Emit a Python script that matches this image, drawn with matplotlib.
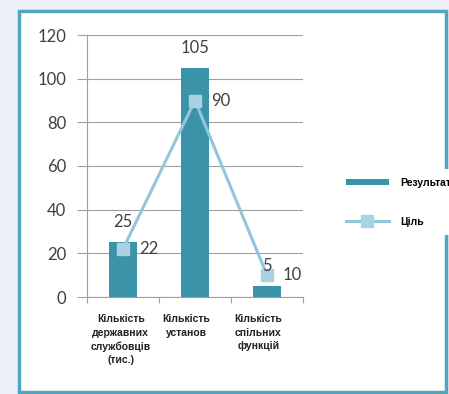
import matplotlib
matplotlib.use("Agg")
from matplotlib import pyplot as plt
from matplotlib.patches import Rectangle

categories = ["Кількість\nдержавних\nслужбовців\n(тис.)", "Кількість\nустанов", "Кількість\nспільних\nфункцій"]
results = [25, 105, 5]
target = [22, 90, 10]
y_ticks = [0, 20, 40, 60, 80, 100, 120]

bar_color = "#3a93a9"
line_color = "#92c6da"
marker_color = "#a9d3e3"
grid_color = "#a0a0a0"
text_color = "#404040"

plt.rcParams["font.family"] = ["Lato", "DejaVu Sans"]

fig = plt.figure(figsize=(4.49, 3.94), dpi=100)
fig.patch.set_facecolor("#edf0f8")

# біла рамка з бірюзовою обводкою
frame = Rectangle((19 / 449, 1 - 392 / 394), 427 / 449, 381 / 394, transform=fig.transFigure,
                  facecolor="white", edgecolor="#4ea7bf", linewidth=2.5, zorder=-1)
fig.patches.append(frame)

ax = fig.add_axes([87 / 449, 97 / 394, 216 / 449, 262 / 394])
ax.set_facecolor("none")
ax.set_zorder(2)

x = list(range(len(categories)))
bars = ax.bar(x, results, width=0.39, color=bar_color, label="Результати", zorder=2)
line, = ax.plot(x, target, color=line_color, linewidth=2.2, marker="s", markersize=8,
                markerfacecolor=marker_color, markeredgecolor=marker_color, label="Ціль", zorder=3)

# підписи значень
for xi, v in zip(x, results):
    ax.text(xi, v + 5.5, str(v), ha="center", va="bottom", fontsize=12, color=text_color)
for xi, v in zip(x, target):
    ax.text(xi + 0.22, v, str(v), ha="left", va="center", fontsize=12, color=text_color)

ax.set_xlim(-0.5, 2.5)
ax.set_ylim(0, 120)
ax.set_yticks(y_ticks)
ax.tick_params(axis="y", labelsize=12, labelcolor=text_color, color=grid_color, length=7, pad=8)
ax.grid(axis="y", color=grid_color, linewidth=0.8, zorder=0)

ax.set_xticks([-0.5, 0.5, 1.5, 2.5])
ax.set_xticklabels([])
ax.tick_params(axis="x", color=grid_color, length=4)
for xi, name in zip(x, categories):
    ax.text(xi - 0.45, -8, name, ha="left", va="top", multialignment="center",
            fontsize=7.5, fontweight="bold", family=["Liberation Sans", "DejaVu Sans"],
            color="#222222", linespacing=1.4)

for side in ["top", "right"]:
    ax.spines[side].set_visible(False)
ax.spines["left"].set_color(grid_color)
ax.spines["bottom"].set_color(grid_color)

leg = fig.legend([bars, line], ["Результати", "Ціль"], loc="upper left",
                 bbox_to_anchor=(332 / 449, 1 - 164 / 394),
                 frameon=True, prop={"weight": "bold", "size": 7.5, "family": ["Liberation Sans"]},
                 handlelength=4.2, handleheight=0.6, handletextpad=1.1, labelspacing=2.8,
                 borderpad=0.8)
leg.get_frame().set_edgecolor("none")
leg.get_frame().set_facecolor("white")
leg.get_frame().set_alpha(1)
leg.set_zorder(5)

fig.savefig("out.png", dpi=100)
